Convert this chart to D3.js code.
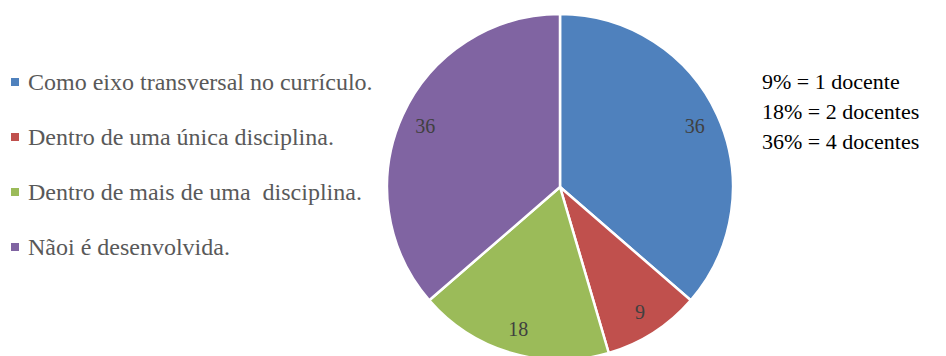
<!DOCTYPE html>
<html>
<head>
<meta charset="utf-8">
<script src="https://cdn.jsdelivr.net/npm/d3@7"></script>
<style>
  html, body { margin: 0; padding: 0; background: #fff; }
  svg { display: block; }
  svg text { font-family: "Liberation Serif", "Times New Roman", Times, "DejaVu Serif", serif; white-space: pre; }
</style>
</head>
<body>
<svg id="chart" width="946" height="356"></svg>
<script>
// Forma de desenvolvimento do tema (percentual de docentes)
const categories = [
  "Como eixo transversal no currículo.",
  "Dentro de uma única disciplina.",
  "Dentro de mais de uma  disciplina.",
  "Nãoi é desenvolvida."
];
const values = [36, 9, 18, 36];
const colors = ["#4F81BD", "#C0504D", "#9BBB59", "#8064A2"];
const notes = ["9% = 1 docente", "18% = 2 docentes", "36% = 4 docentes"];

const svg = d3.select("#chart");

const cx = 560, cy = 187, radius = 173, labelRadius = 148;

const pie = d3.pie().sort(null).value(d => d)(values);
const arc = d3.arc().innerRadius(0).outerRadius(radius);
const labelArc = d3.arc().innerRadius(labelRadius).outerRadius(labelRadius);

const g = svg.append("g").attr("transform", `translate(${cx},${cy})`);

g.selectAll("path.slice")
  .data(pie)
  .join("path")
  .attr("class", "slice")
  .attr("d", arc)
  .attr("fill", (d, i) => colors[i])
  .attr("stroke", "#fff")
  .attr("stroke-width", 2.5)
  .attr("stroke-linejoin", "round");

g.selectAll("text.value")
  .data(pie)
  .join("text")
  .attr("class", "value")
  .attr("transform", d => `translate(${labelArc.centroid(d)})`)
  .attr("text-anchor", "middle")
  .attr("dominant-baseline", "central")
  .attr("font-size", 20)
  .attr("fill", "#404040")
  .text(d => d.data);

// Legenda
const legend = svg.append("g").attr("transform", "translate(11,82)");
const rows = legend.selectAll("g.row")
  .data(categories)
  .join("g")
  .attr("class", "row")
  .attr("transform", (d, i) => `translate(0,${i * 55})`);

rows.append("rect")
  .attr("x", 0).attr("y", -4)
  .attr("width", 8).attr("height", 8)
  .attr("fill", (d, i) => colors[i]);

rows.append("text")
  .attr("x", 17)
  .attr("dominant-baseline", "central")
  .attr("font-size", 24)
  .attr("fill", "#595959")
  .text(d => d);

// Nota de equivalência
svg.append("g")
  .attr("transform", "translate(762,81)")
  .selectAll("text")
  .data(notes)
  .join("text")
  .attr("y", (d, i) => i * 30)
  .attr("dominant-baseline", "central")
  .attr("font-size", 22)
  .attr("fill", "#000")
  .text(d => d);
</script>
</body>
</html>
